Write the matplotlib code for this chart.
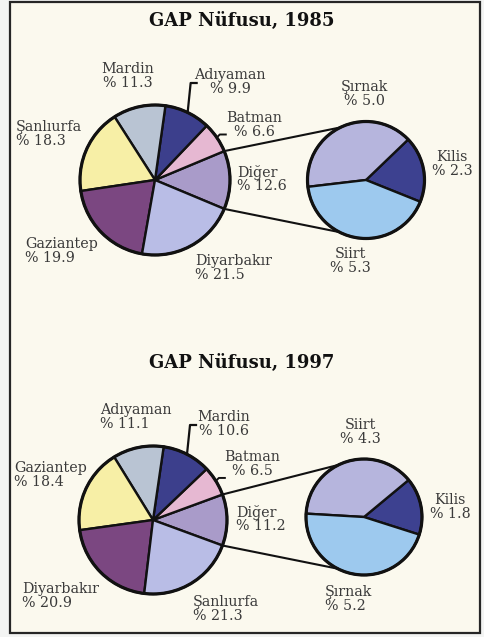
import numpy as np
import matplotlib
import matplotlib.pyplot as plt
from matplotlib.patches import Rectangle, Circle

matplotlib.use('Agg')

W, H = 484, 637

# ---- data ----
# main pie, listed counter-clockwise starting with the exploded "Diğer" slice
names_1985 = ["Diğer", "Batman", "Adıyaman", "Mardin", "Şanlıurfa", "Gaziantep", "Diyarbakır"]
values_1985 = [12.6, 6.6, 9.9, 11.3, 18.3, 19.9, 21.5]
sub_names_1985 = ["Kilis", "Şırnak", "Siirt"]
sub_values_1985 = [2.3, 5.0, 5.3]

names_1997 = ["Diğer", "Batman", "Mardin", "Adıyaman", "Gaziantep", "Diyarbakır", "Şanlıurfa"]
values_1997 = [11.2, 6.5, 10.6, 11.1, 18.4, 20.9, 21.3]
sub_names_1997 = ["Kilis", "Siirt", "Şırnak"]
sub_values_1997 = [1.8, 4.3, 5.2]

main_colors = ["#a99bc9", "#e6b8d2", "#3c3f8c", "#b9c4d3", "#f7efa6", "#7b4781", "#b9bde6"]
sub_colors = ["#3d4190", "#b6b5dd", "#9dc9ee"]

# ---- layout (pixel coords, y from top) ----
panels = [
    dict(title="GAP Nüfusu, 1985", title_y=21,
         names=names_1985, values=values_1985,
         sub_names=sub_names_1985, sub_values=sub_values_1985,
         main_c=(155, 180), main_r=75, sub_c=(366, 180), sub_r=58.5,
         bracket_top=83,
         labels={"Mardin": (128, 76, "center"), "Adıyaman": (230, 82, "center"),
                 "Batman": (254, 125, "center"), "Şanlıurfa": (16, 134, "left"),
                 "Diğer": (237, 179, "left"), "Gaziantep": (25, 251, "left"),
                 "Diyarbakır": (195, 268, "left"), "Şırnak": (364, 94, "center"),
                 "Kilis": (452, 164, "center"), "Siirt": (350, 261, "center")}),
    dict(title="GAP Nüfusu, 1997", title_y=363,
         names=names_1997, values=values_1997,
         sub_names=sub_names_1997, sub_values=sub_values_1997,
         main_c=(153, 520), main_r=74, sub_c=(364, 517), sub_r=58,
         bracket_top=425,
         labels={"Adıyaman": (100, 417, "left"), "Mardin": (224, 424, "center"),
                 "Batman": (252, 464, "center"), "Gaziantep": (14, 475, "left"),
                 "Diğer": (236, 519, "left"), "Diyarbakır": (22, 596, "left"),
                 "Şanlıurfa": (193, 609, "left"), "Siirt": (360, 432, "center"),
                 "Kilis": (450, 507, "center"), "Şırnak": (325, 599, "left")}),
]

TEXT = "#3a3a3a"
SERIF = ["DejaVu Serif"]


def P(x, y):
    """pixel position (y from top) -> data coords"""
    return x, H - y


def rim(c, r, ang):
    a = np.deg2rad(ang)
    return c[0] + r * np.cos(a), c[1] + r * np.sin(a)


fig = plt.figure(figsize=(W / 100, H / 100), dpi=100, facecolor="#f3f4f3")
ax = fig.add_axes((0, 0, 1, 1))
ax.add_patch(Rectangle((10, H - 633), 470, 631, facecolor="#fbf9ee",
                       edgecolor="#262626", lw=1.6, zorder=0))

for p in panels:
    mc = P(*p["main_c"])
    sc = P(*p["sub_c"])
    vals = np.array(p["values"])
    sub = np.array(p["sub_values"])
    diger_ang = 360 * vals[0] / vals.sum()
    start = -diger_ang / 2

    ax.pie(vals, colors=main_colors, startangle=start, counterclock=True,
           center=mc, radius=p["main_r"], frame=True,
           wedgeprops=dict(edgecolor="#111111", linewidth=1.7))
    ax.add_patch(Circle(mc, p["main_r"], fill=False, ec="#111111", lw=2.3, zorder=5))

    kilis_ang = 360 * sub[0] / sub.sum()
    ax.pie(sub, colors=sub_colors, startangle=11 - kilis_ang / 2, counterclock=True,
           center=sc, radius=p["sub_r"], frame=True,
           wedgeprops=dict(edgecolor="#111111", linewidth=1.7))
    ax.add_patch(Circle(sc, p["sub_r"], fill=False, ec="#111111", lw=2.3, zorder=5))

    # connector lines from "Diğer" to the secondary pie
    for a_main, a_sub in [(diger_ang / 2, 116), (-diger_ang / 2, 243)]:
        x0, y0 = rim(mc, p["main_r"], a_main)
        x1, y1 = rim(sc, p["sub_r"], a_sub)
        ax.plot([x0, x1], [y0, y1], color="#111111", lw=1.5, zorder=4)

    # leader marks for the two small top slices
    bounds = start + np.concatenate([[0], np.cumsum(vals)]) * 360 / vals.sum()
    mid_b = (bounds[1] + bounds[2]) / 2
    mid_t = (bounds[2] + bounds[3]) / 2
    x0, y0 = rim(mc, p["main_r"], mid_t)
    ytop = H - p["bracket_top"]
    ax.plot([x0, x0 + 3, x0 + 9], [y0, ytop, ytop], color="#111111", lw=1.6, zorder=4)
    x0, y0 = rim(mc, p["main_r"], mid_b)
    ax.plot([x0, x0 + 3, x0 + 9], [y0, y0 + 3, y0 + 3], color="#111111", lw=1.4, zorder=4)

    ax.text(*P(242, p["title_y"]), p["title"], ha="center", va="center",
            fontsize=13, fontweight="bold", family=SERIF, color="#111111")

    pct = dict(zip(p["names"], p["values"]))
    pct.update(zip(p["sub_names"], p["sub_values"]))
    for name, (x, y, ha) in p["labels"].items():
        ax.text(*P(x, y), f"{name}\n% {pct[name]:.1f}", ha=ha, va="center",
                fontsize=10.3, family=SERIF, color=TEXT, linespacing=1.0,
                multialignment=ha)

ax.set_xlim(0, W)
ax.set_ylim(0, H)
ax.set_aspect("auto")
ax.axis("off")

fig.savefig("out.png", dpi=100, facecolor=fig.get_facecolor())
